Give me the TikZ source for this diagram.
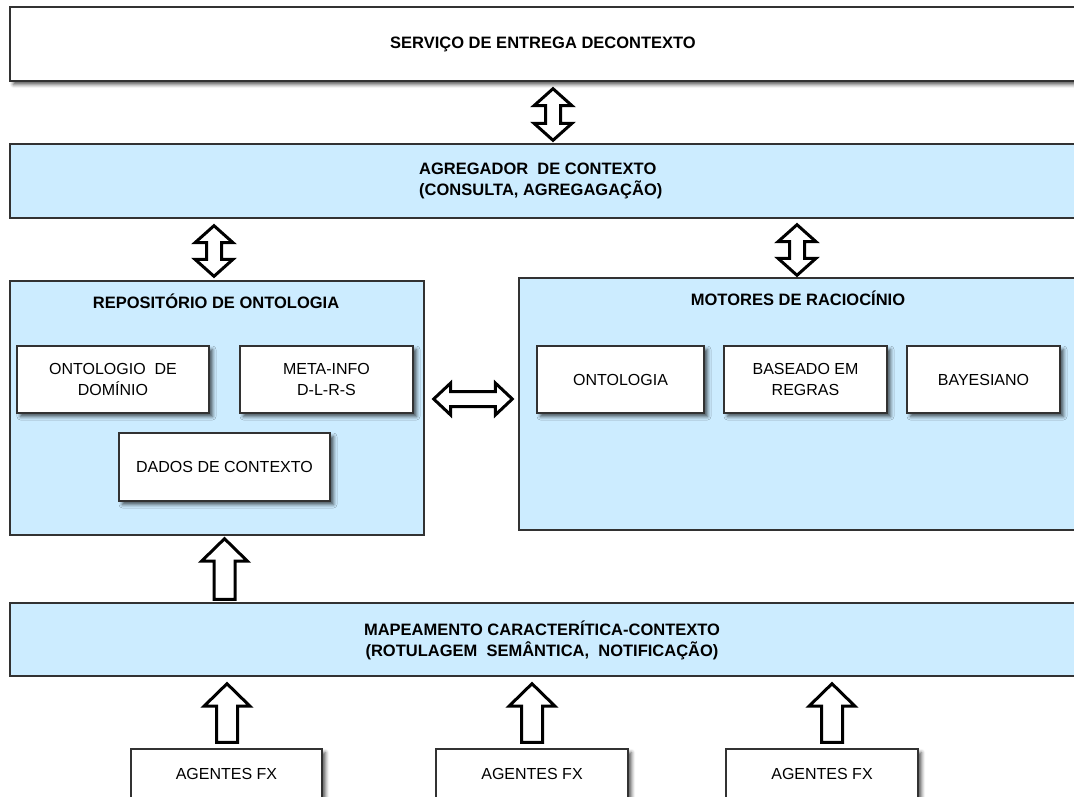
\documentclass[tikz,border=0pt]{standalone}
\usepackage{fontspec}
\setmainfont{Liberation Sans}
\usetikzlibrary{calc,shadows.blur}

\definecolor{panelblue}{RGB}{204,236,255}
\definecolor{edgegray}{RGB}{50,50,50}

\tikzset{
  box/.style={draw=edgegray, line width=1.4pt, rectangle, inner sep=0pt},
  panel/.style={box, fill=panelblue},
  card/.style={box, fill=white, align=center,
    font=\fontsize{16}{21}\selectfont,
    blur shadow={shadow xshift=3.5pt, shadow yshift=-3.5pt,
                 shadow blur radius=3.5pt, shadow opacity=65}},
  heading/.style={font=\fontsize{16.5}{21}\selectfont\bfseries, align=center,
    inner sep=0pt},
  blockarrow/.style={draw=black, fill=white, line width=3pt, line join=miter},
}

% vertical double-headed block arrow between two tips (upper, lower)
\newcommand\vdblarrow[2]{%
  \draw[blockarrow] let \p1=#1, \p2=#2 in
    (\x1,\y1) -- (\x1+19pt,\y1-17pt) -- (\x1+7.5pt,\y1-17pt)
    -- (\x2+7.5pt,\y2+17pt) -- (\x2+19pt,\y2+17pt) -- (\x2,\y2)
    -- (\x2-19pt,\y2+17pt) -- (\x2-7.5pt,\y2+17pt)
    -- (\x1-7.5pt,\y1-17pt) -- (\x1-19pt,\y1-17pt) -- cycle;}

% horizontal double-headed block arrow between two tips (left, right)
\newcommand\hdblarrow[2]{%
  \draw[blockarrow] let \p1=#1, \p2=#2 in
    (\x1,\y1) -- (\x1+17pt,\y1+16pt) -- (\x1+17pt,\y1+7.5pt)
    -- (\x2-17pt,\y2+7.5pt) -- (\x2-17pt,\y2+16pt) -- (\x2,\y2)
    -- (\x2-17pt,\y2-16pt) -- (\x2-17pt,\y2-7.5pt)
    -- (\x1+17pt,\y1-7.5pt) -- (\x1+17pt,\y1-16pt) -- cycle;}

% upward block arrow from a base point to a tip
\newcommand\upblockarrow[2]{%
  \draw[blockarrow] let \p1=#1, \p2=#2 in
    (\x2,\y2) -- (\x2+23pt,\y2-22.5pt) -- (\x2+10.5pt,\y2-22.5pt)
    -- (\x1+10.5pt,\y1) -- (\x1-10.5pt,\y1)
    -- (\x2-10.5pt,\y2-22.5pt) -- (\x2-23pt,\y2-22.5pt) -- cycle;}

\begin{document}
\begin{tikzpicture}[x=1pt, y=-1pt]
  \useasboundingbox (0,0) rectangle (1074,796);
  \clip (0,0) rectangle (1074,796);

  % top service layer
  \node[card, minimum width=1066pt, minimum height=74pt,
        font=\fontsize{16.5}{21}\selectfont\bfseries] (svc) at (543,44)
        {SERVIÇO DE ENTREGA DECONTEXTO};

  % aggregator layer
  \node[panel, minimum width=1066pt, minimum height=74pt] (agg) at (543,181) {};
  \node[heading, align=left, anchor=west] (aggtext) at (419,181)
        {AGREGADOR\ \ DE CONTEXTO\\(CONSULTA, AGREGAGAÇÃO)};

  % ontology repository
  \node[panel, minimum width=414pt, minimum height=254pt] (repo) at (217,408) {};
  \node[heading] (repotitle) at (216,301) {REPOSITÓRIO DE ONTOLOGIA};
  \node[card, minimum width=192pt, minimum height=67pt] (dom) at (113,379.5)
        {ONTOLOGIO\ \ DE\\DOMÍNIO};
  \node[card, minimum width=173pt, minimum height=67pt] (meta) at (326.5,379.5)
        {META-INFO\\D-L-R-S};
  \node[card, minimum width=211pt, minimum height=68pt] (dados) at (224.5,467)
        {DADOS DE CONTEXTO};

  % reasoning engines
  \node[panel, minimum width=561pt, minimum height=252pt] (mot) at (799.5,404) {};
  \node[heading] (mottitle) at (798,298) {MOTORES DE RACIOCÍNIO};
  \node[card, minimum width=167pt, minimum height=67pt] (ont) at (620.5,379.5)
        {ONTOLOGIA};
  \node[card, minimum width=163pt, minimum height=67pt] (rules) at (805.5,379.5)
        {BASEADO EM\\REGRAS};
  \node[card, minimum width=153pt, minimum height=67pt] (bayes) at (983.5,379.5)
        {BAYESIANO};

  % feature-to-context mapping layer
  \node[panel, minimum width=1066pt, minimum height=73pt] (map) at (543,639.5) {};
  \node[heading] (maptext) at (542,640)
        {MAPEAMENTO CARACTERÍTICA-CONTEXTO\\(ROTULAGEM\ \ SEMÂNTICA,\ \ NOTIFICAÇÃO)};

  % agents
  \node[card, minimum width=191pt, minimum height=50pt] (ag1) at (226.5,774) {AGENTES FX};
  \node[card, minimum width=192pt, minimum height=50pt] (ag2) at (532,774) {AGENTES FX};
  \node[card, minimum width=192pt, minimum height=50pt] (ag3) at (822,774) {AGENTES FX};

  % connectors
  \vdblarrow{([xshift=10pt,yshift=-7pt]svc.south)}{([xshift=10pt,yshift=3pt]agg.north)}
  \vdblarrow{($(repo.north |- agg.south)+(-3,7)$)}{($(repo.north)+(-3,-4)$)}
  \vdblarrow{($(mot.north |- agg.south)+(-2.5,6)$)}{($(mot.north)+(-2.5,-2)$)}
  \hdblarrow{($(repo.east)+(9,-9)$)}{($(repo.east -| mot.west)+(-6,-9)$)}
  \upblockarrow{($(repo.south |- map.north)+(7.5,-3)$)}{($(repo.south)+(7.5,3)$)}
  \upblockarrow{($(ag1.north)+(0.5,-6)$)}{($(ag1.north |- map.south)+(0.5,7)$)}
  \upblockarrow{($(ag2.north)+(0,-6)$)}{($(ag2.north |- map.south)+(0,7)$)}
  \upblockarrow{($(ag3.north)+(10,-6)$)}{($(ag3.north |- map.south)+(10,7)$)}
\end{tikzpicture}
\end{document}
